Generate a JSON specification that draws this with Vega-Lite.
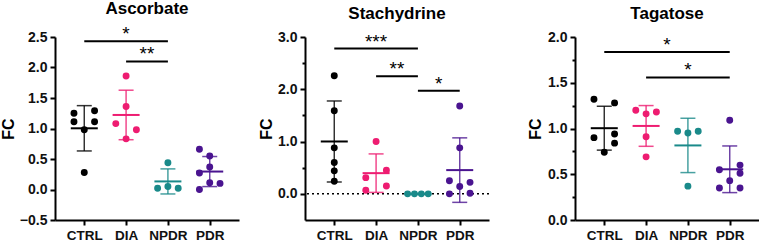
{
  "$schema": "https://vega.github.io/schema/vega-lite/v6.json",
  "padding": {"left": 0, "top": 0, "right": 0, "bottom": 0},
  "background": "white",
  "datasets": {
    "pts": [
      {"metabolite": "Ascorbate", "group": "CTRL", "value": 1.25, "slot": -3},
      {"metabolite": "Ascorbate", "group": "CTRL", "value": 1.29, "slot": 3},
      {"metabolite": "Ascorbate", "group": "CTRL", "value": 1.11, "slot": -3},
      {"metabolite": "Ascorbate", "group": "CTRL", "value": 1.11, "slot": 3},
      {"metabolite": "Ascorbate", "group": "CTRL", "value": 0.98, "slot": 0},
      {"metabolite": "Ascorbate", "group": "CTRL", "value": 0.28, "slot": 0},
      {"metabolite": "Ascorbate", "group": "DIA", "value": 1.86, "slot": 0},
      {"metabolite": "Ascorbate", "group": "DIA", "value": 1.36, "slot": 0},
      {"metabolite": "Ascorbate", "group": "DIA", "value": 1.08, "slot": -3},
      {"metabolite": "Ascorbate", "group": "DIA", "value": 0.98, "slot": 3},
      {"metabolite": "Ascorbate", "group": "DIA", "value": 0.83, "slot": 0},
      {"metabolite": "Ascorbate", "group": "NPDR", "value": 0.44, "slot": 0},
      {"metabolite": "Ascorbate", "group": "NPDR", "value": 0.02, "slot": -3},
      {"metabolite": "Ascorbate", "group": "NPDR", "value": 0.05, "slot": 0},
      {"metabolite": "Ascorbate", "group": "NPDR", "value": 0.02, "slot": 3},
      {"metabolite": "Ascorbate", "group": "PDR", "value": 0.66, "slot": -3},
      {"metabolite": "Ascorbate", "group": "PDR", "value": 0.55, "slot": 0},
      {"metabolite": "Ascorbate", "group": "PDR", "value": 0.37, "slot": 0},
      {"metabolite": "Ascorbate", "group": "PDR", "value": 0.27, "slot": -3},
      {"metabolite": "Ascorbate", "group": "PDR", "value": 0.11, "slot": 0},
      {"metabolite": "Ascorbate", "group": "PDR", "value": 0.10, "slot": 3},
      {"metabolite": "Ascorbate", "group": "PDR", "value": 0.0, "slot": -3},
      {"metabolite": "Stachydrine", "group": "CTRL", "value": 2.26, "slot": 0},
      {"metabolite": "Stachydrine", "group": "CTRL", "value": 1.59, "slot": 0},
      {"metabolite": "Stachydrine", "group": "CTRL", "value": 0.88, "slot": 0},
      {"metabolite": "Stachydrine", "group": "CTRL", "value": 0.60, "slot": 0},
      {"metabolite": "Stachydrine", "group": "CTRL", "value": 0.44, "slot": 0},
      {"metabolite": "Stachydrine", "group": "CTRL", "value": 0.24, "slot": 0},
      {"metabolite": "Stachydrine", "group": "DIA", "value": 1.0, "slot": 0},
      {"metabolite": "Stachydrine", "group": "DIA", "value": 0.45, "slot": 3},
      {"metabolite": "Stachydrine", "group": "DIA", "value": 0.31, "slot": -3},
      {"metabolite": "Stachydrine", "group": "DIA", "value": 0.15, "slot": 3},
      {"metabolite": "Stachydrine", "group": "DIA", "value": 0.07, "slot": -3},
      {"metabolite": "Stachydrine", "group": "NPDR", "value": 0.0, "slot": -3},
      {"metabolite": "Stachydrine", "group": "NPDR", "value": 0.0, "slot": -1},
      {"metabolite": "Stachydrine", "group": "NPDR", "value": 0.0, "slot": 1},
      {"metabolite": "Stachydrine", "group": "NPDR", "value": 0.0, "slot": 3},
      {"metabolite": "Stachydrine", "group": "PDR", "value": 1.68, "slot": 0},
      {"metabolite": "Stachydrine", "group": "PDR", "value": 0.88, "slot": 0},
      {"metabolite": "Stachydrine", "group": "PDR", "value": 0.25, "slot": -3},
      {"metabolite": "Stachydrine", "group": "PDR", "value": 0.22, "slot": 3},
      {"metabolite": "Stachydrine", "group": "PDR", "value": 0.14, "slot": 0},
      {"metabolite": "Stachydrine", "group": "PDR", "value": 0.0, "slot": -3},
      {"metabolite": "Stachydrine", "group": "PDR", "value": 0.01, "slot": 3},
      {"metabolite": "Tagatose", "group": "CTRL", "value": 1.32, "slot": -3},
      {"metabolite": "Tagatose", "group": "CTRL", "value": 1.28, "slot": 3},
      {"metabolite": "Tagatose", "group": "CTRL", "value": 0.90, "slot": -3},
      {"metabolite": "Tagatose", "group": "CTRL", "value": 0.94, "slot": 3},
      {"metabolite": "Tagatose", "group": "CTRL", "value": 0.84, "slot": 3},
      {"metabolite": "Tagatose", "group": "CTRL", "value": 0.74, "slot": 0},
      {"metabolite": "Tagatose", "group": "DIA", "value": 1.20, "slot": -3},
      {"metabolite": "Tagatose", "group": "DIA", "value": 1.18, "slot": 3},
      {"metabolite": "Tagatose", "group": "DIA", "value": 1.16, "slot": 0},
      {"metabolite": "Tagatose", "group": "DIA", "value": 0.91, "slot": 0},
      {"metabolite": "Tagatose", "group": "DIA", "value": 0.69, "slot": 0},
      {"metabolite": "Tagatose", "group": "NPDR", "value": 0.97, "slot": -3},
      {"metabolite": "Tagatose", "group": "NPDR", "value": 0.97, "slot": 3},
      {"metabolite": "Tagatose", "group": "NPDR", "value": 0.95, "slot": 0},
      {"metabolite": "Tagatose", "group": "NPDR", "value": 0.37, "slot": 0},
      {"metabolite": "Tagatose", "group": "PDR", "value": 1.09, "slot": 0},
      {"metabolite": "Tagatose", "group": "PDR", "value": 0.60, "slot": 3},
      {"metabolite": "Tagatose", "group": "PDR", "value": 0.55, "slot": -3},
      {"metabolite": "Tagatose", "group": "PDR", "value": 0.51, "slot": 3},
      {"metabolite": "Tagatose", "group": "PDR", "value": 0.43, "slot": 0},
      {"metabolite": "Tagatose", "group": "PDR", "value": 0.35, "slot": -3},
      {"metabolite": "Tagatose", "group": "PDR", "value": 0.35, "slot": 3}
    ],
    "sig": [
      {"metabolite": "Ascorbate", "from": "CTRL", "to": "NPDR", "span": 2, "y": 2.43, "label": "*"},
      {"metabolite": "Ascorbate", "from": "DIA", "to": "NPDR", "span": 1, "y": 2.1, "label": "**"},
      {"metabolite": "Stachydrine", "from": "CTRL", "to": "NPDR", "span": 2, "y": 2.78, "label": "***"},
      {"metabolite": "Stachydrine", "from": "DIA", "to": "NPDR", "span": 1, "y": 2.25, "label": "**"},
      {"metabolite": "Stachydrine", "from": "NPDR", "to": "PDR", "span": 1, "y": 1.97, "label": "*"},
      {"metabolite": "Tagatose", "from": "CTRL", "to": "PDR", "span": 3, "y": 1.836, "label": "*"},
      {"metabolite": "Tagatose", "from": "DIA", "to": "PDR", "span": 2, "y": 1.558, "label": "*"}
    ],
    "zero": [{"y": 0}]
  },
  "hconcat": [
    {
      "spacing": 19,
      "hconcat": [
        {
          "width": 184, "height": 183,
          "title": "Ascorbate",
          "resolve": {"axis": {"y": "independent"}, "scale": {"xOffset": "independent"}},
          "layer": [
            {
              "data": {"name": "pts"}, "transform": [{"filter": "datum.metabolite === 'Ascorbate'"}],
              "mark": {"type": "circle", "size": 48, "opacity": 1},
              "encoding": {
                "x": {"field": "group", "type": "nominal", "scale": {"type": "point", "domain": ["CTRL", "DIA", "NPDR", "PDR"], "padding": 0.7}, "axis": {"title": null}},
                "xOffset": {"field": "slot", "type": "quantitative", "scale": {"domain": [-3, 3], "range": [-10.3, 10.3]}},
                "y": {"field": "value", "type": "quantitative", "scale": {"domain": [-0.5, 2.5], "nice": false, "zero": false}, "axis": {"title": "FC", "values": [-0.5, 0, 0.5, 1, 1.5, 2, 2.5], "format": ".1f", "titlePadding": 3}},
                "color": {"field": "group", "type": "nominal", "scale": {"domain": ["CTRL", "DIA", "NPDR", "PDR"], "range": ["#000000", "#EE1C71", "#1A8A8A", "#4A1490"]}, "legend": null}
              }
            },
            {
              "data": {"name": "pts"}, "transform": [{"filter": "datum.metabolite === 'Ascorbate'"}],
              "mark": {"type": "errorbar", "extent": "stdev", "ticks": true, "size": 15, "thickness": 1.5, "opacity": 0.8},
              "encoding": {
                "x": {"field": "group", "type": "nominal", "scale": {"type": "point", "domain": ["CTRL", "DIA", "NPDR", "PDR"], "padding": 0.7}, "axis": {"title": null}},
                "y": {"field": "value", "type": "quantitative", "scale": {"domain": [-0.5, 2.5], "nice": false, "zero": false}, "axis": null},
                "color": {"field": "group", "type": "nominal", "scale": {"domain": ["CTRL", "DIA", "NPDR", "PDR"], "range": ["#000000", "#EE1C71", "#1A8A8A", "#4A1490"]}, "legend": null}
              }
            },
            {
              "data": {"name": "pts"}, "transform": [{"filter": "datum.metabolite === 'Ascorbate'"}],
              "mark": {"type": "tick", "size": 27, "thickness": 2, "opacity": 1},
              "encoding": {
                "x": {"field": "group", "type": "nominal", "scale": {"type": "point", "domain": ["CTRL", "DIA", "NPDR", "PDR"], "padding": 0.7}, "axis": {"title": null}},
                "y": {"aggregate": "mean", "field": "value", "type": "quantitative", "scale": {"domain": [-0.5, 2.5], "nice": false, "zero": false}, "axis": null},
                "color": {"field": "group", "type": "nominal", "scale": {"domain": ["CTRL", "DIA", "NPDR", "PDR"], "range": ["#000000", "#EE1C71", "#1A8A8A", "#4A1490"]}, "legend": null}
              }
            },
            {
              "data": {"name": "sig"}, "transform": [{"filter": "datum.metabolite === 'Ascorbate'"}],
              "mark": {"type": "rule", "strokeWidth": 2, "color": "#000"},
              "encoding": {
                "x": {"field": "from", "type": "nominal", "scale": {"type": "point", "domain": ["CTRL", "DIA", "NPDR", "PDR"], "padding": 0.7}, "axis": {"title": null}},
                "x2": {"field": "to"},
                "y": {"field": "y", "type": "quantitative", "scale": {"domain": [-0.5, 2.5], "nice": false, "zero": false}, "axis": null}
              }
            },
            {
              "data": {"name": "sig"}, "transform": [{"filter": "datum.metabolite === 'Ascorbate'"}],
              "mark": {"type": "text", "fontSize": 19, "baseline": "alphabetic", "dy": -1, "color": "#000", "font": "Liberation Sans"},
              "encoding": {
                "x": {"field": "from", "type": "nominal", "scale": {"type": "point", "domain": ["CTRL", "DIA", "NPDR", "PDR"], "padding": 0.7}, "axis": {"title": null}},
                "xOffset": {"field": "span", "type": "quantitative", "scale": {"domain": [0, 4], "range": [0, 83.6]}},
                "y": {"field": "y", "type": "quantitative", "scale": {"domain": [-0.5, 2.5], "nice": false, "zero": false}, "axis": null},
                "text": {"field": "label"}
              }
            }
          ]
        },
        {
          "width": 184, "height": 183,
          "title": "Stachydrine",
          "resolve": {"axis": {"y": "independent"}, "scale": {"xOffset": "independent"}},
          "layer": [
            {
              "data": {"name": "zero"},
              "mark": {"type": "rule", "strokeDash": [2, 3], "strokeWidth": 1.5, "color": "#000"},
              "encoding": {
                "y": {"field": "y", "type": "quantitative", "scale": {"domain": [-0.5, 3], "nice": false, "zero": false}, "axis": null}
              }
            },
            {
              "data": {"name": "pts"}, "transform": [{"filter": "datum.metabolite === 'Stachydrine'"}],
              "mark": {"type": "circle", "size": 48, "opacity": 1},
              "encoding": {
                "x": {"field": "group", "type": "nominal", "scale": {"type": "point", "domain": ["CTRL", "DIA", "NPDR", "PDR"], "padding": 0.7}, "axis": {"title": null}},
                "xOffset": {"field": "slot", "type": "quantitative", "scale": {"domain": [-3, 3], "range": [-10.3, 10.3]}},
                "y": {"field": "value", "type": "quantitative", "scale": {"domain": [-0.5, 3], "nice": false, "zero": false}, "axis": {"title": "FC", "values": [0, 1, 2, 3], "format": ".1f", "titlePadding": 3}},
                "color": {"field": "group", "type": "nominal", "scale": {"domain": ["CTRL", "DIA", "NPDR", "PDR"], "range": ["#000000", "#EE1C71", "#1A8A8A", "#4A1490"]}, "legend": null}
              }
            },
            {
              "data": {"name": "pts"}, "transform": [{"filter": "datum.metabolite === 'Stachydrine'"}],
              "mark": {"type": "errorbar", "extent": "stdev", "ticks": true, "size": 15, "thickness": 1.5, "opacity": 0.8},
              "encoding": {
                "x": {"field": "group", "type": "nominal", "scale": {"type": "point", "domain": ["CTRL", "DIA", "NPDR", "PDR"], "padding": 0.7}, "axis": {"title": null}},
                "y": {"field": "value", "type": "quantitative", "scale": {"domain": [-0.5, 3], "nice": false, "zero": false}, "axis": null},
                "color": {"field": "group", "type": "nominal", "scale": {"domain": ["CTRL", "DIA", "NPDR", "PDR"], "range": ["#000000", "#EE1C71", "#1A8A8A", "#4A1490"]}, "legend": null}
              }
            },
            {
              "data": {"name": "pts"}, "transform": [{"filter": "datum.metabolite === 'Stachydrine'"}],
              "mark": {"type": "tick", "size": 27, "thickness": 2, "opacity": 1},
              "encoding": {
                "x": {"field": "group", "type": "nominal", "scale": {"type": "point", "domain": ["CTRL", "DIA", "NPDR", "PDR"], "padding": 0.7}, "axis": {"title": null}},
                "y": {"aggregate": "mean", "field": "value", "type": "quantitative", "scale": {"domain": [-0.5, 3], "nice": false, "zero": false}, "axis": {"orient": "left", "title": null, "values": [0.5, 1.5, 2.5], "labels": false, "domain": false, "tickSize": 3}},
                "color": {"field": "group", "type": "nominal", "scale": {"domain": ["CTRL", "DIA", "NPDR", "PDR"], "range": ["#000000", "#EE1C71", "#1A8A8A", "#4A1490"]}, "legend": null}
              }
            },
            {
              "data": {"name": "sig"}, "transform": [{"filter": "datum.metabolite === 'Stachydrine'"}],
              "mark": {"type": "rule", "strokeWidth": 2, "color": "#000"},
              "encoding": {
                "x": {"field": "from", "type": "nominal", "scale": {"type": "point", "domain": ["CTRL", "DIA", "NPDR", "PDR"], "padding": 0.7}, "axis": {"title": null}},
                "x2": {"field": "to"},
                "y": {"field": "y", "type": "quantitative", "scale": {"domain": [-0.5, 3], "nice": false, "zero": false}, "axis": null}
              }
            },
            {
              "data": {"name": "sig"}, "transform": [{"filter": "datum.metabolite === 'Stachydrine'"}],
              "mark": {"type": "text", "fontSize": 19, "baseline": "alphabetic", "dy": -1, "color": "#000", "font": "Liberation Sans"},
              "encoding": {
                "x": {"field": "from", "type": "nominal", "scale": {"type": "point", "domain": ["CTRL", "DIA", "NPDR", "PDR"], "padding": 0.7}, "axis": {"title": null}},
                "xOffset": {"field": "span", "type": "quantitative", "scale": {"domain": [0, 4], "range": [0, 83.6]}},
                "y": {"field": "y", "type": "quantitative", "scale": {"domain": [-0.5, 3], "nice": false, "zero": false}, "axis": null},
                "text": {"field": "label"}
              }
            }
          ]
        }
      ]
    },
    {
      "width": 184, "height": 183,
      "title": "Tagatose",
      "resolve": {"axis": {"y": "independent"}, "scale": {"xOffset": "independent"}},
      "layer": [
        {
          "data": {"name": "pts"}, "transform": [{"filter": "datum.metabolite === 'Tagatose'"}],
          "mark": {"type": "circle", "size": 48, "opacity": 1},
          "encoding": {
            "x": {"field": "group", "type": "nominal", "scale": {"type": "point", "domain": ["CTRL", "DIA", "NPDR", "PDR"], "padding": 0.7}, "axis": {"title": null}},
            "xOffset": {"field": "slot", "type": "quantitative", "scale": {"domain": [-3, 3], "range": [-10.3, 10.3]}},
            "y": {"field": "value", "type": "quantitative", "scale": {"domain": [0, 2], "nice": false, "zero": false}, "axis": {"title": "FC", "values": [0, 0.5, 1, 1.5, 2], "format": ".1f", "titlePadding": 4}},
            "color": {"field": "group", "type": "nominal", "scale": {"domain": ["CTRL", "DIA", "NPDR", "PDR"], "range": ["#000000", "#EE1C71", "#1A8A8A", "#4A1490"]}, "legend": null}
          }
        },
        {
          "data": {"name": "pts"}, "transform": [{"filter": "datum.metabolite === 'Tagatose'"}],
          "mark": {"type": "errorbar", "extent": "stdev", "ticks": true, "size": 15, "thickness": 1.5, "opacity": 0.8},
          "encoding": {
            "x": {"field": "group", "type": "nominal", "scale": {"type": "point", "domain": ["CTRL", "DIA", "NPDR", "PDR"], "padding": 0.7}, "axis": {"title": null}},
            "y": {"field": "value", "type": "quantitative", "scale": {"domain": [0, 2], "nice": false, "zero": false}, "axis": null},
            "color": {"field": "group", "type": "nominal", "scale": {"domain": ["CTRL", "DIA", "NPDR", "PDR"], "range": ["#000000", "#EE1C71", "#1A8A8A", "#4A1490"]}, "legend": null}
          }
        },
        {
          "data": {"name": "pts"}, "transform": [{"filter": "datum.metabolite === 'Tagatose'"}],
          "mark": {"type": "tick", "size": 27, "thickness": 2, "opacity": 1},
          "encoding": {
            "x": {"field": "group", "type": "nominal", "scale": {"type": "point", "domain": ["CTRL", "DIA", "NPDR", "PDR"], "padding": 0.7}, "axis": {"title": null}},
            "y": {"aggregate": "mean", "field": "value", "type": "quantitative", "scale": {"domain": [0, 2], "nice": false, "zero": false}, "axis": {"orient": "left", "title": null, "values": [0.25, 0.75, 1.25, 1.75], "labels": false, "domain": false, "tickSize": 3}},
            "color": {"field": "group", "type": "nominal", "scale": {"domain": ["CTRL", "DIA", "NPDR", "PDR"], "range": ["#000000", "#EE1C71", "#1A8A8A", "#4A1490"]}, "legend": null}
          }
        },
        {
          "data": {"name": "sig"}, "transform": [{"filter": "datum.metabolite === 'Tagatose'"}],
          "mark": {"type": "rule", "strokeWidth": 2, "color": "#000"},
          "encoding": {
            "x": {"field": "from", "type": "nominal", "scale": {"type": "point", "domain": ["CTRL", "DIA", "NPDR", "PDR"], "padding": 0.7}, "axis": {"title": null}},
            "x2": {"field": "to"},
            "y": {"field": "y", "type": "quantitative", "scale": {"domain": [0, 2], "nice": false, "zero": false}, "axis": null}
          }
        },
        {
          "data": {"name": "sig"}, "transform": [{"filter": "datum.metabolite === 'Tagatose'"}],
          "mark": {"type": "text", "fontSize": 19, "baseline": "alphabetic", "dy": -1, "color": "#000", "font": "Liberation Sans"},
          "encoding": {
            "x": {"field": "from", "type": "nominal", "scale": {"type": "point", "domain": ["CTRL", "DIA", "NPDR", "PDR"], "padding": 0.7}, "axis": {"title": null}},
            "xOffset": {"field": "span", "type": "quantitative", "scale": {"domain": [0, 4], "range": [0, 83.6]}},
            "y": {"field": "y", "type": "quantitative", "scale": {"domain": [0, 2], "nice": false, "zero": false}, "axis": null},
            "text": {"field": "label"}
          }
        }
      ]
    }
  ],
  "spacing": 37,
  "config": {
    "view": {"stroke": null},
    "font": "Liberation Sans",
    "axis": {
      "domainColor": "#000", "domainWidth": 2, "tickColor": "#000", "tickWidth": 2, "tickSize": 5,
      "labelFont": "Liberation Sans", "labelFontWeight": "bold", "labelColor": "#111", "labelFontSize": 14, "labelPadding": 3,
      "grid": false, "titleFont": "Liberation Sans", "titleFontWeight": "bold", "titleFontSize": 16, "titleColor": "#000"
    },
    "axisX": {"labelFontSize": 13.5, "labelAngle": 0},
    "title": {"font": "Liberation Sans", "fontSize": 17, "fontWeight": "bold", "color": "#000", "anchor": "middle", "frame": "group", "offset": 7}
  }
}
